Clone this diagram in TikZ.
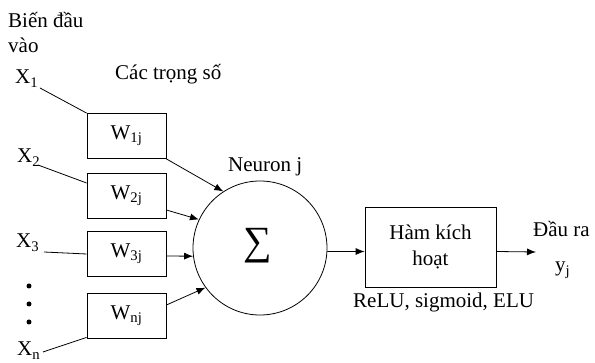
\documentclass[tikz,border=0pt]{standalone}
\usepackage{fontspec}
\setmainfont{Liberation Serif}
\usetikzlibrary{arrows.meta}
\begin{document}
\begin{tikzpicture}[x=1pt,y=-1pt,
  every node/.style={font=\fontsize{21}{26}\selectfont},
  txt/.style={anchor=base west,inner sep=0pt},
  wbox/.style={draw,line width=0.8pt,minimum width=79pt,minimum height=45pt,inner sep=0pt},
  link/.style={line width=0.8pt},
  arr/.style={line width=0.8pt,-{Latex[length=9pt,width=7pt]}},
  dotn/.style={circle,fill,inner sep=0pt,minimum size=5pt}]
\useasboundingbox (0,0) rectangle (595,363);
% labels
\node[txt] (bien) at (8,28) {Biến đầu};
\node[txt] (vao) at (8,53) {vào};
\node[txt] (x1) at (15,84) {X\textsubscript{1}};
\node[txt] (x2) at (17,163) {X\textsubscript{2}};
\node[txt] (x3) at (16,248) {X\textsubscript{3}};
\node[txt] (xn) at (17,356) {X\textsubscript{n}};
\node[txt] (cac) at (115,80) {Các trọng số};
\node[txt] (neu) at (228,172) {Neuron j};
\node[txt] (relu) at (353,308) {ReLU, sigmoid, ELU};
\node[txt] (dau) at (533,237) {Đầu ra};
\node[txt] (yj) at (555,272) {y\textsubscript{j}};
% dots
\node[dotn] (d1) at (29,286) {};
\node[dotn] (d2) at (29,304) {};
\node[dotn] (d3) at (29,322) {};
% weight boxes
\node[wbox] (w1) at (126.5,136) {W\textsubscript{1j}};
\node[wbox] (w2) at (126.5,195.5) {W\textsubscript{2j}};
\node[wbox] (w3) at (126.5,253.5) {W\textsubscript{3j}};
\node[wbox] (wn) at (126.5,315.5) {W\textsubscript{nj}};
% neuron
\node[draw,circle,line width=0.8pt,minimum size=134pt,inner sep=0pt] (n) at (260,248) {};
\node[inner sep=0pt,font=\fontsize{40}{40}\selectfont] (sig) at (258,246) {∑};
% activation
\node[draw,line width=0.8pt,minimum width=131pt,minimum height=80pt,align=center,inner sep=0pt] (act) at (430.5,247) {Hàm kích\\hoạt};
% free ends
\coordinate (x1e) at (40,88);
\coordinate (x2e) at (38,165);
\coordinate (x3e) at (44,252);
\coordinate (xne) at (43,352);
\coordinate (oute) at (536,252);
% connectors
\draw[link] (x1e) -- (w1.north west);
\draw[link] (x2e) -- ([yshift=12.5pt]w2.west);
\draw[link] (x3e) -- ([yshift=-0.5pt]w3.west);
\draw[link] (xne) -- ([yshift=1pt]wn.south west);
\draw[arr] (w1.south east) -- (n.123);
\draw[arr] ([yshift=-14.5pt]w2.east) -- (n.155);
\draw[arr] ([yshift=-2.5pt]w3.east) -- (n.187);
\draw[arr] ([yshift=10.5pt]wn.east) -- (n.216);
\draw[arr] (n.-3) -- ([yshift=-4.5pt]act.west);
\draw[arr] ([yshift=-4.5pt]act.east) -- (oute);
\end{tikzpicture}
\end{document}
